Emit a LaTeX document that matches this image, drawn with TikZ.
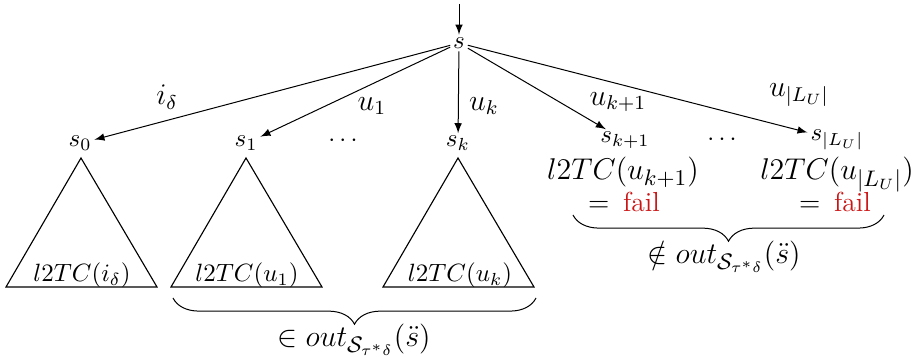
\documentclass[tikz,border=0pt]{standalone}
\usetikzlibrary{decorations.pathreplacing}
\definecolor{failred}{RGB}{204,20,20}
\begin{document}
\begin{tikzpicture}[x=0.4pt,y=-0.4pt,>=latex,
  state/.style={inner sep=1pt},
  lbl/.style={inner sep=0pt,font=\fontsize{12}{14}\selectfont},
  big/.style={inner sep=0pt,anchor=base,font=\fontsize{12.5}{15}\selectfont},
  res/.style={inner sep=0pt,anchor=base,font=\fontsize{11}{13}\selectfont},
  tri/.style={draw,line width=0.45pt},
  brc/.style={decorate,decoration={brace,mirror,amplitude=10.5pt}}]
\useasboundingbox (0,0) rectangle (913,357);

% root and incoming edge
\coordinate (in) at (459,4);
\node[state] (s) at (459,43) {$s$};
\draw[->] (in) -- (s);

% successor states
\node[state,anchor=base] (s0) at (80,147) {$s_0$};
\node[state,anchor=base] (s1) at (246,147) {$s_1$};
\node[inner sep=0pt,anchor=base] (d1) at (343,147) {$\cdots$};
\node[state,anchor=base] (sk) at (458,147) {$s_k$};
\node[state,anchor=base] (sk1) at (625,143) {$s_{k+1}$};
\node[inner sep=0pt,anchor=base] (d2) at (722,146) {$\cdots$};
\node[state,anchor=base] (sL) at (837,141) {$s_{|L_U|}$};

\draw[->] (s) -- (s0);
\draw[->] (s) -- (s1);
\draw[->] (s) -- (sk);
\draw[->] (s) -- (sk1);
\draw[->] (s) -- (sL);

% edge labels
\node[lbl] (li) at (167,97) {$i_\delta$};
\node[lbl] (lu1) at (372,106) {$u_1$};
\node[lbl] (luk) at (484,106) {$u_k$};
\node[lbl] (luk1) at (618,102) {$u_{k+1}$};
\node[lbl] (luL) at (799,95) {$u_{|L_U|}$};

% subtrees
\draw[tri] (81,158) -- (6,287) -- (157,287) -- cycle;
\draw[tri] (246,158) -- (171,287) -- (322,287) -- cycle;
\draw[tri] (458,158) -- (383,287) -- (534,287) -- cycle;
\node[anchor=base,inner sep=0pt] (t0) at (82,282) {$l2TC(i_\delta)$};
\node[anchor=base,inner sep=0pt] (t1) at (247,282) {$l2TC(u_1)$};
\node[anchor=base,inner sep=0pt] (tk) at (460,282) {$l2TC(u_k)$};

% failing successors
\node[big] (f1) at (623,180) {$l2TC(u_{k+1})$};
\node[big] (f2) at (837,180) {$l2TC(u_{|L_U|})$};
\node[res] (e1) at (624,212) {$=$\hspace{0.5em}\textcolor{failred}{fail}};
\node[res] (e2) at (835,212) {$=$\hspace{0.5em}\textcolor{failred}{fail}};

% braces
\coordinate (b1l) at (173,298);
\coordinate (b1r) at (536,298);
\draw[brc] (b1l) -- (b1r);
\node[big] (o1) at (354,347) {$\in out_{\mathcal{S}_{\tau^*\delta}}(\ddot{s})$};
\coordinate (b2l) at (573,215);
\coordinate (b2r) at (884,215);
\draw[brc] (b2l) -- (b2r);
\node[big] (o2) at (724,264) {$\notin out_{\mathcal{S}_{\tau^*\delta}}(\ddot{s})$};
\end{tikzpicture}
\end{document}
